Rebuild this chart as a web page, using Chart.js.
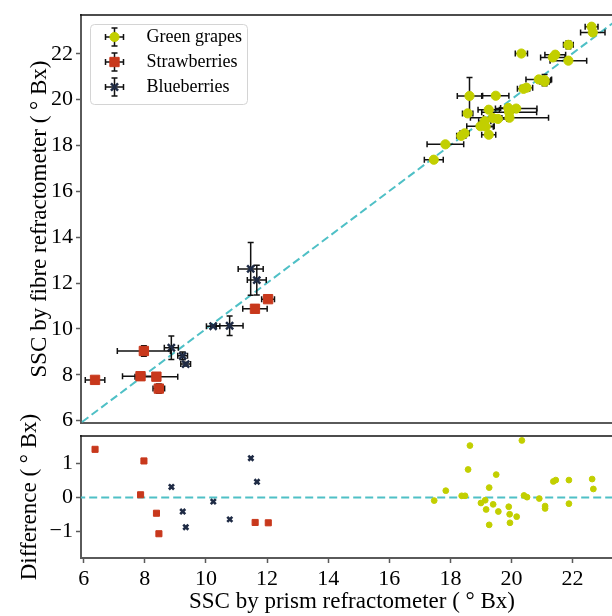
<!DOCTYPE html>
<html>
<head>
<meta charset="utf-8">
<script src="https://cdn.jsdelivr.net/npm/chart.js@4.4.0/dist/chart.umd.min.js"></script>
<style>
  html, body { margin: 0; padding: 0; background: #fff; }
  #wrap { position: relative; width: 612px; height: 616px; overflow: hidden; }
  #topPanel { position: absolute; left: 0; top: 0; }
  #bottomPanel { position: absolute; left: 0; top: 400px; }
</style>
</head>
<body>
<div id="wrap">
  <canvas id="topPanel" width="630" height="440"></canvas>
  <canvas id="bottomPanel" width="630" height="216"></canvas>
</div>
<script>
// Green grapes: prism SSC, fibre SSC, their errors, and the fibre - prism difference
const grapePrism = [17.47, 17.85, 18.37, 18.48, 18.58, 18.64, 19.00, 19.14, 19.17, 19.27, 19.27, 19.40, 19.50, 19.57, 19.91, 19.94, 19.95, 20.17, 20.34, 20.41, 20.51, 20.91, 21.10, 21.10, 21.37, 21.45, 21.88, 21.88, 22.64, 22.68];
const grapeFibre = [17.38, 18.05, 18.42, 18.53, 19.40, 20.16, 18.84, 19.06, 18.82, 19.56, 18.47, 19.20, 20.17, 19.16, 19.64, 19.45, 19.21, 19.61, 22.01, 20.47, 20.52, 20.88, 20.85, 20.78, 21.84, 21.96, 22.39, 21.70, 23.18, 22.93];
const grapePrismErr = [0.31, 0.60, 0.15, 0.15, 0.17, 0.40, 0.45, 0.20, 0.25, 0.35, 0.23, 0.30, 0.43, 0.30, 0.25, 0.90, 1.28, 0.68, 0.20, 0.20, 0.20, 0.42, 0.20, 0.15, 0.40, 0.34, 0.16, 0.60, 0.21, 0.40];
const grapeFibreErr = [0.05, 0.05, 0.05, 0.08, 0.05, 0.80, 0.10, 0.08, 0.08, 0.08, 0.10, 0.08, 0.08, 0.08, 0.08, 0.08, 0.08, 0.08, 0.08, 0.08, 0.08, 0.08, 0.25, 0.08, 0.08, 0.10, 0.17, 0.08, 0.08, 0.08];
const grapeDiff = [-0.09, 0.20, 0.05, 0.05, 0.82, 1.52, -0.16, -0.08, -0.35, 0.29, -0.80, -0.20, 0.67, -0.41, -0.27, -0.49, -0.74, -0.56, 1.67, 0.06, 0.01, -0.03, -0.25, -0.32, 0.47, 0.51, 0.51, -0.18, 0.54, 0.25];

// Strawberries
const berryPrism = [6.37, 7.97, 7.86, 8.38, 8.46, 11.61, 12.04];
const berryFibre = [7.78, 9.04, 7.94, 7.92, 7.40, 10.88, 11.30];
const berryPrismErr = [0.32, 0.87, 0.59, 0.70, 0.19, 0.40, 0.21];
const berryFibreErr = [0.05, 0.23, 0.05, 0.05, 0.20, 0.05, 0.05];
const berryDiff = [1.41, 1.07, 0.08, -0.46, -1.06, -0.73, -0.74];

// Blueberries
const bluePrism = [8.87, 9.24, 9.34, 10.24, 10.78, 11.47, 11.67];
const blueFibre = [9.18, 8.83, 8.47, 10.12, 10.14, 12.62, 12.13];
const bluePrismErr = [0.23, 0.16, 0.16, 0.22, 0.44, 0.41, 0.31];
const blueFibreErr = [0.51, 0.17, 0.08, 0.05, 0.43, 1.15, 0.65];
const blueDiff = [0.31, -0.41, -0.87, -0.12, -0.64, 1.15, 0.46];

// Axes
const prismRange = [5.91, 23.65];
const fibreRange = [5.9, 23.69];
const diffRange = [-1.77, 1.80];
const xTicks = [6, 8, 10, 12, 14, 16, 18, 20, 22];
const fibreTicks = [6, 8, 10, 12, 14, 16, 18, 20, 22];
const diffTicks = [-1, 0, 1];
const identityLine = [5, 24];

const FONT = "'Liberation Serif', 'Times New Roman', serif";
const GRAPE = "#c2cf00";
const BERRY = "#c8381c";
const BLUE = "#1f2b45";
const TEAL = "#4fc0c6";
const SPINE = "#5a5a5a";

function toPoints(xs, ys) {
  return xs.map((x, i) => ({ x: x, y: ys[i] }));
}

function minusLabel(v) {
  return v < 0 ? "\u2212" + Math.abs(v) : String(v);
}

// keep the plot box where we put it: no auto padding for tick labels
function noAutoPadding(s) {
  s.paddingTop = 0;
  s.paddingBottom = 0;
  s.paddingLeft = 0;
  s.paddingRight = 0;
}

// Draw error bars under each dataset's markers
const errorBarPlugin = {
  id: "errorBars",
  beforeDatasetDraw(chart, args) {
    const ds = chart.data.datasets[args.index];
    if (!ds.xErr && !ds.yErr) return;
    const xs = chart.scales.x;
    const ys = chart.scales.y;
    const ctx = chart.ctx;
    const cap = 3;
    ctx.save();
    ctx.strokeStyle = "#111";
    ctx.lineWidth = 1.5;
    ds.data.forEach(function (p, i) {
      const cx = xs.getPixelForValue(p.x);
      const cy = ys.getPixelForValue(p.y);
      ctx.beginPath();
      if (ds.xErr) {
        const l = xs.getPixelForValue(p.x - ds.xErr[i]);
        const r = xs.getPixelForValue(p.x + ds.xErr[i]);
        ctx.moveTo(l, cy); ctx.lineTo(r, cy);
        ctx.moveTo(l, cy - cap); ctx.lineTo(l, cy + cap);
        ctx.moveTo(r, cy - cap); ctx.lineTo(r, cy + cap);
      }
      if (ds.yErr) {
        const t = ys.getPixelForValue(p.y + ds.yErr[i]);
        const b = ys.getPixelForValue(p.y - ds.yErr[i]);
        ctx.moveTo(cx, t); ctx.lineTo(cx, b);
        ctx.moveTo(cx - cap, t); ctx.lineTo(cx + cap, t);
        ctx.moveTo(cx - cap, b); ctx.lineTo(cx + cap, b);
      }
      ctx.stroke();
    });
    ctx.restore();
  }
};

// Black top spine
const topSpinePlugin = {
  id: "topSpine",
  afterDraw(chart) {
    const a = chart.chartArea;
    const ctx = chart.ctx;
    ctx.save();
    ctx.strokeStyle = "#111";
    ctx.lineWidth = 1.5;
    ctx.beginPath();
    ctx.moveTo(a.left - 1, a.top);
    ctx.lineTo(a.right, a.top);
    ctx.stroke();
    ctx.restore();
  }
};

// Legend with error-bar glyphs, inside the top panel
const legendPlugin = {
  id: "errLegend",
  afterDraw(chart) {
    const ctx = chart.ctx;
    const a = chart.chartArea;
    const bx = a.left + 9.5, by = a.top + 9.5, bw = 157, bh = 80;
    ctx.save();
    ctx.beginPath();
    ctx.roundRect(bx, by, bw, bh, 4);
    ctx.fillStyle = "rgba(255,255,255,0.85)";
    ctx.fill();
    ctx.strokeStyle = "#d4d4d4";
    ctx.lineWidth = 1;
    ctx.stroke();
    const mx = bx + 24;
    chart.data.datasets.filter(d => d.inLegend).forEach(function (ds, i) {
      const my = by + 12.5 + i * 25;
      ctx.strokeStyle = "#111";
      ctx.lineWidth = 1.5;
      ctx.beginPath();
      ctx.moveTo(mx - 9, my); ctx.lineTo(mx + 9, my);
      ctx.moveTo(mx - 9, my - 3); ctx.lineTo(mx - 9, my + 3);
      ctx.moveTo(mx + 9, my - 3); ctx.lineTo(mx + 9, my + 3);
      ctx.moveTo(mx, my - 9); ctx.lineTo(mx, my + 9);
      ctx.moveTo(mx - 3, my - 9); ctx.lineTo(mx + 3, my - 9);
      ctx.moveTo(mx - 3, my + 9); ctx.lineTo(mx + 3, my + 9);
      ctx.stroke();
      ctx.fillStyle = ds.backgroundColor;
      ctx.strokeStyle = ds.borderColor;
      ctx.lineWidth = ds.borderWidth;
      Chart.helpers.drawPoint(ctx, {
        pointStyle: ds.pointStyle, radius: ds.pointRadius, rotation: 0, borderWidth: ds.borderWidth
      }, mx, my);
      ctx.fillStyle = "#000";
      ctx.font = "18px " + FONT;
      ctx.textBaseline = "middle";
      ctx.textAlign = "left";
      ctx.fillText(ds.label, bx + 56, my);
    });
    ctx.restore();
  }
};

function yAxis(range, ticks, title, width, titlePad) {
  return {
    type: "linear",
    min: range[0],
    max: range[1],
    afterBuildTicks: s => { s.ticks = ticks.map(v => ({ value: v })); },
    afterFit: s => { s.width = width; noAutoPadding(s); },
    ticks: {
      color: "#000",
      font: { family: FONT, size: 22 },
      padding: 3,
      callback: v => minusLabel(v)
    },
    grid: { display: true, drawOnChartArea: false, drawTicks: true, tickLength: 5, tickWidth: 1.5, tickColor: SPINE },
    border: { display: true, color: SPINE, width: 2 },
    title: { display: true, text: title, color: "#000", font: { family: FONT, size: 23 }, padding: { top: titlePad, bottom: 0 } }
  };
}

const baseOptions = {
  responsive: false,
  animation: false,
  events: [],
  plugins: { legend: { display: false }, tooltip: { enabled: false } }
};

// Top panel: fibre vs prism with error bars
new Chart(document.getElementById("topPanel").getContext("2d"), {
  type: "scatter",
  data: {
    datasets: [
      {
        type: "line", label: "1:1", data: toPoints(identityLine, identityLine),
        borderColor: TEAL, borderWidth: 2, borderDash: [8, 4], pointRadius: 0, order: 10, clip: 0
      },
      {
        label: "Green grapes", inLegend: true, data: toPoints(grapePrism, grapeFibre),
        xErr: grapePrismErr, yErr: grapeFibreErr,
        pointStyle: "circle", pointRadius: 4.6, backgroundColor: GRAPE, borderColor: GRAPE, borderWidth: 1, order: 1
      },
      {
        label: "Strawberries", inLegend: true, data: toPoints(berryPrism, berryFibre),
        xErr: berryPrismErr, yErr: berryFibreErr,
        pointStyle: "rect", pointRadius: 6.6, backgroundColor: BERRY, borderColor: BERRY, borderWidth: 1, order: 1
      },
      {
        label: "Blueberries", inLegend: true, data: toPoints(bluePrism, blueFibre),
        xErr: bluePrismErr, yErr: blueFibreErr,
        pointStyle: "crossRot", pointRadius: 5, backgroundColor: BLUE, borderColor: BLUE, borderWidth: 2.5, order: 1
      }
    ]
  },
  options: Object.assign({}, baseOptions, {
    layout: { padding: { left: 0, top: 15, right: 7, bottom: 0 } },
    scales: {
      x: {
        type: "linear", min: prismRange[0], max: prismRange[1],
        afterBuildTicks: s => { s.ticks = xTicks.map(v => ({ value: v })); },
        afterFit: s => { s.height = 17; noAutoPadding(s); },
        ticks: { display: false },
        grid: { display: false },
        border: { display: true, color: SPINE, width: 2 }
      },
      y: yAxis(fibreRange, fibreTicks, "SSC by fibre refractometer ( \u00b0 Bx)", 81, 26)
    }
  }),
  plugins: [errorBarPlugin, topSpinePlugin, legendPlugin]
});

// Bottom panel: difference fibre - prism
new Chart(document.getElementById("bottomPanel").getContext("2d"), {
  type: "scatter",
  data: {
    datasets: [
      {
        type: "line", label: "zero", data: toPoints(identityLine, [0, 0]),
        borderColor: TEAL, borderWidth: 2, borderDash: [8, 4], pointRadius: 0, order: 10, clip: 0
      },
      {
        label: "Green grapes", data: toPoints(grapePrism, grapeDiff),
        pointStyle: "circle", pointRadius: 2.9, backgroundColor: GRAPE, borderColor: GRAPE, borderWidth: 1, order: 1
      },
      {
        label: "Strawberries", data: toPoints(berryPrism, berryDiff),
        pointStyle: "rect", pointRadius: 4.3, backgroundColor: BERRY, borderColor: BERRY, borderWidth: 1, order: 1
      },
      {
        label: "Blueberries", data: toPoints(bluePrism, blueDiff),
        pointStyle: "crossRot", pointRadius: 3.6, backgroundColor: BLUE, borderColor: BLUE, borderWidth: 2.6, order: 1
      }
    ]
  },
  options: Object.assign({}, baseOptions, {
    layout: { padding: { left: 0, top: 36, right: 7, bottom: 0 } },
    scales: {
      x: {
        type: "linear", min: prismRange[0], max: prismRange[1],
        afterBuildTicks: s => { s.ticks = xTicks.map(v => ({ value: v })); },
        afterFit: s => { s.height = 58; noAutoPadding(s); },
        ticks: { color: "#000", font: { family: FONT, size: 22 }, padding: 3, maxRotation: 0 },
        grid: { display: true, drawOnChartArea: false, drawTicks: true, tickLength: 5, tickWidth: 1.5, tickColor: SPINE },
        border: { display: true, color: SPINE, width: 2 },
        title: { display: true, text: "SSC by prism refractometer ( \u00b0 Bx)", color: "#000", font: { family: FONT, size: 23 }, padding: { top: 0, bottom: 0 } }
      },
      y: yAxis(diffRange, diffTicks, "Difference ( \u00b0 Bx)", 81, 16)
    }
  }),
  plugins: [topSpinePlugin]
});
</script>
</body>
</html>
